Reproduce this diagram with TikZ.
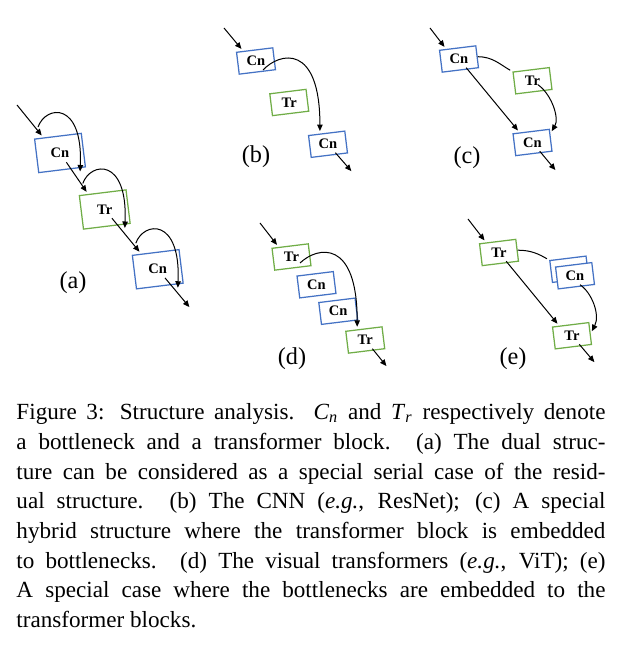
\documentclass[tikz,border=0pt]{standalone}
\usepackage{graphicx}
\usepackage{fontspec}
\setmainfont{Liberation Serif}
\usetikzlibrary{positioning,arrows.meta}
\definecolor{cnblue}{HTML}{4472C4}
\definecolor{trgreen}{HTML}{70AD47}
\newcommand{\boxtxt}[1]{\rotatebox{-7}{#1}}
\hbadness=10000

\begin{document}
\begin{tikzpicture}[x=0.4pt,y=0.4pt,on grid,>={Triangle[length=2.6pt,width=2.2pt]},shorten >=1pt,
    blk/.style={draw,line width=0.5pt,rotate=7,inner sep=0pt,minimum width=14.6pt,minimum height=8.8pt,font=\fontsize{5.8}{7}\selectfont\bfseries},
    big/.style={minimum width=18.8pt,minimum height=13.5pt},
    cn/.style={blk,draw=cnblue},
    tr/.style={blk,draw=trgreen},
    flow/.style={->,shorten <=4.5pt},
    tag/.style={font=\fontsize{9.7}{11}\selectfont}]
    \useasboundingbox (0,0) rectangle (631,647);

    % (a) dual structure
    \node[cn,big] (cnA1) at (60,494) {\boxtxt{Cn}};
    \node[tr,big] (trA) [below right=22.6pt and 17.9pt of cnA1] {\boxtxt{Tr}};
    \node[cn,big] (cnA2) [below right=23.9pt and 21.2pt of trA] {\boxtxt{Cn}};
    \coordinate (inA) at (17,542);
    \coordinate (outA) at (191,338);
    \draw[->] (inA) -- (cnA1.130);
    \draw[flow] (cnA1.center) -- (trA.130);
    \draw[flow] (trA.center) -- (cnA2.130);
    \draw[flow] (cnA2.center) -- (outA);
    \draw[->] ([shift={(-22,26)}]cnA1.center) .. controls +(8,22) and +(3,73) .. ([shift={(20,-21)}]cnA1.center);
    \draw[->] ([shift={(-22,26)}]trA.center) .. controls +(8,22) and +(3,73) .. ([shift={(20,-21)}]trA.center);
    \draw[->] ([shift={(-22,26)}]cnA2.center) .. controls +(8,22) and +(3,73) .. ([shift={(20,-21)}]cnA2.center);
    \node[tag] (labA) at (73,364) {(a)};

    % (b) CNN
    \node[cn] (cnB1) at (256,586) {\boxtxt{Cn}};
    \node[tr] (trB) [below right=16.6pt and 13.3pt of cnB1] {\boxtxt{Tr}};
    \node[cn] (cnB2) [below right=16.7pt and 15.5pt of trB] {\boxtxt{Cn}};
    \coordinate (inB) at (224,619);
    \coordinate (outB) at (353,474);
    \draw[->] (inB) -- (cnB1.135);
    \draw[->] ([shift={(7,-9)}]cnB1.center) .. controls +(17,18) and +(0,90) .. (cnB2.120);
    \draw[flow] (cnB2.center) -- (outB);
    \node[tag] (labB) at (256,490) {(b)};

    % (c) hybrid
    \node[cn] (cnC1) at (459,588) {\boxtxt{Cn}};
    \node[tr] (trC) [below right=8.7pt and 29.4pt of cnC1] {\boxtxt{Tr}};
    \node[cn] (cnC2) [below=24.7pt of trC] {\boxtxt{Cn}};
    \coordinate (inC) at (430,619);
    \coordinate (outC) at (557,475);
    \draw[->] (inC) -- (cnC1.135);
    \draw[flow] (cnC1.center) -- (cnC2.135);
    \draw (cnC1.east) to[out=0,in=150] (trC.north west);
    \draw[->] ([shift={(5.5,-4)}]trC.center) .. controls +(14,-10) and +(9,15) .. (cnC2.20);
    \draw[flow] (cnC2.center) -- (outC);
    \node[tag] (labC) at (467,489) {(c)};

    % (d) visual transformer
    \node[tr] (trD1) at (291.5,390) {\boxtxt{Tr}};
    \node[cn] (cnD1) [below right=11.1pt and 10pt of trD1] {\boxtxt{Cn}};
    \node[cn] (cnD2) [below right=10.6pt and 8.7pt of cnD1] {\boxtxt{Cn}};
    \node[tr] (trD2) [below right=11.5pt and 10.8pt of cnD2] {\boxtxt{Tr}};
    \coordinate (inD) at (260,424);
    \coordinate (outD) at (388,279);
    \draw[->] (inD) -- (trD1.135);
    \draw[->] ([shift={(8.5,-6)}]trD1.center) .. controls +(18,17) and +(0,90) .. (trD2.120);
    \draw[flow] (trD2.center) -- (outD);
    \node[tag] (labD) at (292,288) {(d)};

    % (e) bottlenecks inside transformer
    \node[tr] (trE1) at (499,394.5) {\boxtxt{Tr}};
    \node[cn] (cnE1) [below right=6.7pt and 28.1pt of trE1] {};
    \node[cn,fill=white] (cnE2) [below right=2.6pt and 2.3pt of cnE1] {\boxtxt{Cn}};
    \node[tr] (trE2) [below right=33.3pt and 29.2pt of trE1] {\boxtxt{Tr}};
    \coordinate (inE) at (468,428);
    \coordinate (outE) at (596,283);
    \draw[->] (inE) -- (trE1.135);
    \draw[flow] (trE1.center) -- (trE2.135);
    \draw (trE1.east) to[out=0,in=150] (cnE1.north west);
    \draw[->] ([shift={(5,-9)}]cnE2.center) .. controls +(12,-8) and +(9.5,18.5) .. (trE2.east);
    \draw[flow] (trE2.center) -- (outE);
    \node[tag] (labE) at (513,288) {(e)};

    % caption
    \node[anchor=base west,inner sep=0pt,text width=235.6pt,align=justify,font=\fontsize{9.25}{11.85}\selectfont] (cap) at (16,227) {Figure 3: Structure analysis. \textit{C}\textsubscript{\textit{n}} and \textit{T}\textsubscript{\textit{r}} respectively denote\linebreak
    a bottleneck and a transformer block. (a) The dual struc-\linebreak
    ture can be considered as a special serial case of the resid-\linebreak
    ual structure. (b) The CNN (\textit{e.g.}, ResNet); (c) A special\linebreak
    hybrid structure where the transformer block is embedded\linebreak
    to bottlenecks. (d) The visual transformers (\textit{e.g.}, ViT); (e)\linebreak
    A special case where the bottlenecks are embedded to the\linebreak
    transformer blocks.};
\end{tikzpicture}
\end{document}
